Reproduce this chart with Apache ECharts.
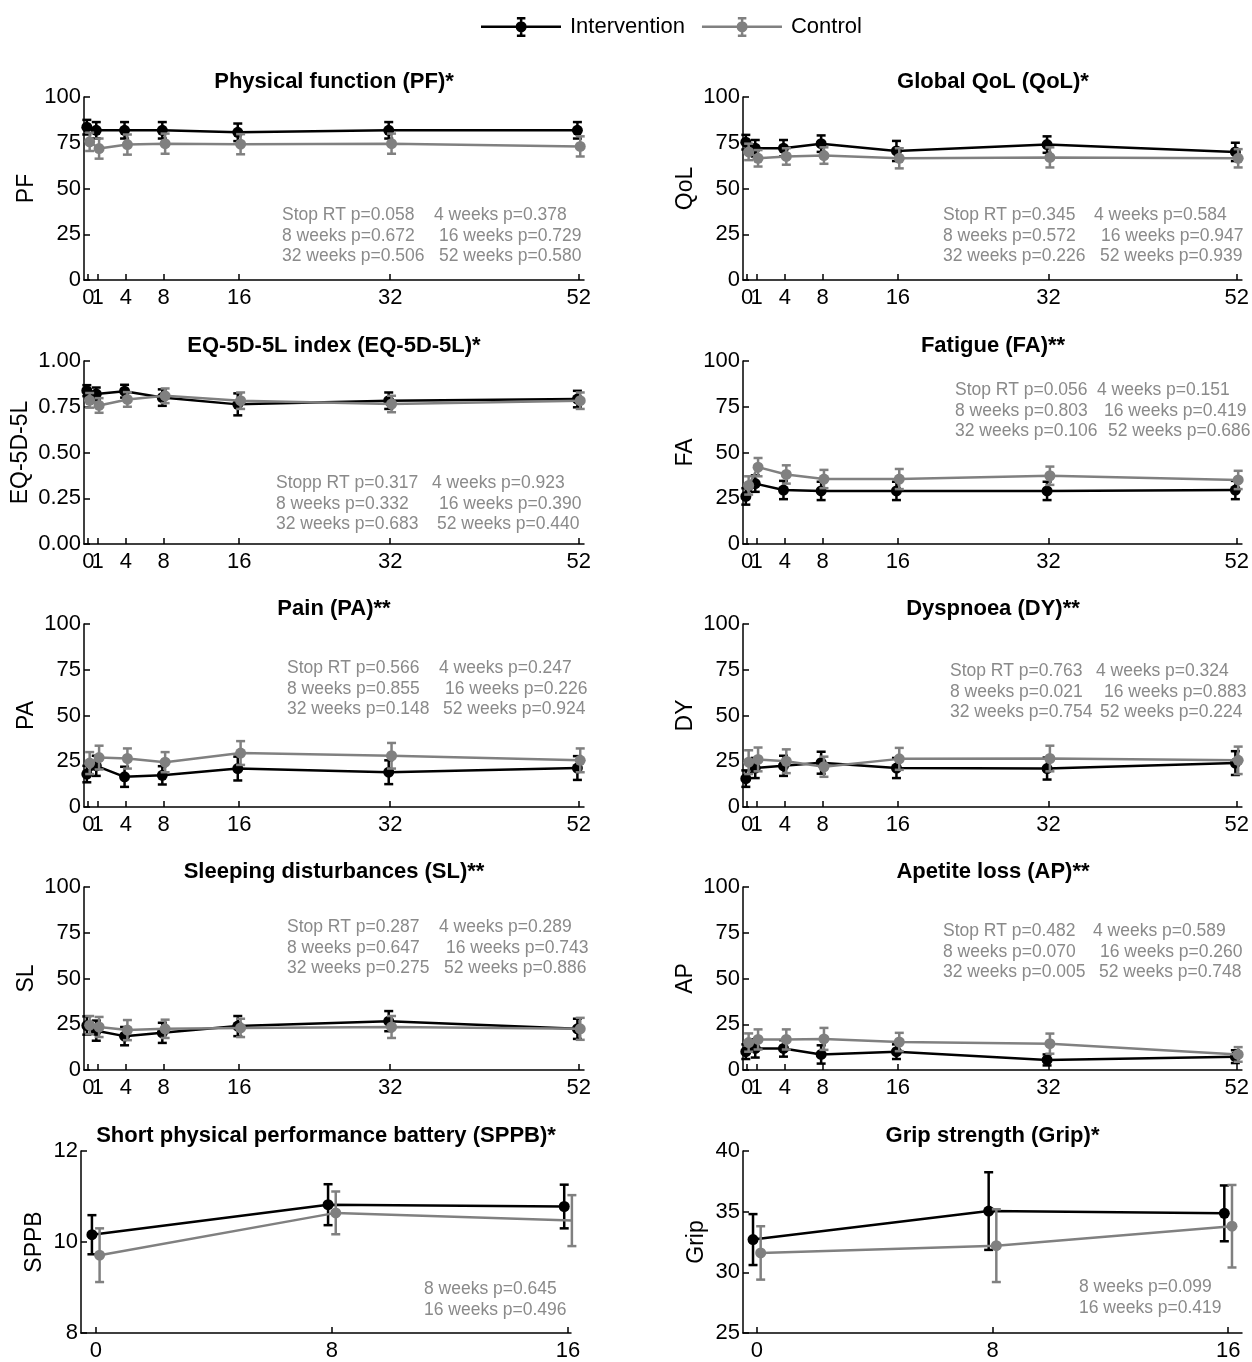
<!DOCTYPE html>
<html>
<head>
<meta charset="utf-8">
<style>html,body{margin:0;padding:0;background:#fff}#c{width:1252px;height:1362px}</style>
<script src="https://cdn.jsdelivr.net/npm/echarts@6/dist/echarts.min.js"></script>
</head>
<body>
<div id="c"></div>
<script>
// ---------------- DATA ----------------
const weeksLong = [0, 1, 4, 8, 16, 32, 52];
const weeksShort = [0, 8, 16];
const xTicksLong = [0, 1, 4, 8, 16, 32, 52];
const xTicksShort = [0, 8, 16];
const seriesNames = ['Intervention', 'Control'];

const pfInt = [83.5, 81.8, 81.8, 81.8, 80.7, 81.8, 81.8];
const pfIntErr = [4, 4.5, 4.5, 4.5, 4.8, 4.5, 4.5];
const pfCtl = [75.5, 71.8, 74, 74.5, 74.2, 74.5, 73];
const pfCtlErr = [5, 5.5, 5.5, 5.5, 5.5, 5.5, 5.5];

const qolInt = [75.3, 72, 72, 74.5, 70.5, 74, 70];
const qolIntErr = [4, 4.5, 4.5, 4.5, 5.5, 4.5, 5];
const qolCtl = [70, 66.5, 67.5, 68, 66.5, 67, 66.5];
const qolCtlErr = [4.5, 4.5, 4.5, 4.5, 5.5, 5.5, 5];

const eqInt = [0.838, 0.82, 0.835, 0.80, 0.763, 0.783, 0.792];
const eqIntErr = [0.03, 0.035, 0.035, 0.045, 0.06, 0.045, 0.045];
const eqCtl = [0.785, 0.757, 0.79, 0.81, 0.783, 0.765, 0.783];
const eqCtlErr = [0.04, 0.04, 0.04, 0.04, 0.045, 0.045, 0.045];

const faInt = [26, 33, 29.5, 29, 29, 29, 29.5];
const faIntErr = [4.5, 4.5, 5, 5, 5, 5, 5];
const faCtl = [32, 42, 38, 35.5, 35.5, 37.3, 35];
const faCtlErr = [5, 5, 5, 5, 5.5, 5, 5];

const paInt = [18, 22.5, 16.5, 17.3, 21, 19, 21.3];
const paIntErr = [4.5, 5.5, 5.5, 5, 6.5, 6.5, 6.5];
const paCtl = [24, 27, 26.5, 24.5, 29.5, 28, 25.5];
const paCtlErr = [6, 6.5, 5.5, 5.5, 6.5, 7, 6.5];

const dyInt = [15.5, 21.3, 22.5, 24.2, 21.3, 21, 24];
const dyIntErr = [4.5, 5.5, 5.5, 6, 5.5, 6, 6.5];
const dyCtl = [24.5, 26, 25, 22, 26.3, 26.5, 25.5];
const dyCtlErr = [6.5, 6.5, 6.5, 5.5, 6, 7, 7.5];

const slInt = [24.3, 21.5, 18.5, 20.3, 24, 26.7, 22.5];
const slIntErr = [5, 5.5, 5, 5.5, 5.5, 5.5, 5.5];
const slCtl = [24.5, 23.5, 21.8, 22.5, 23, 23.5, 22.5];
const slCtlErr = [5, 5.5, 5.5, 5, 5, 6, 6];

const apInt = [10, 11.8, 11.8, 8.5, 10, 5.5, 7.3];
const apIntErr = [4, 5, 4.5, 5, 4, 3, 3.5];
const apCtl = [15, 16.7, 16.7, 17, 15.3, 14.4, 8.5];
const apCtlErr = [5, 5.5, 5.5, 6, 5, 5.5, 4];

const sppbInt = [10.16, 10.82, 10.78];
const sppbIntErr = [0.43, 0.45, 0.48];
const sppbCtl = [9.71, 10.64, 10.47];
const sppbCtlErr = [0.59, 0.47, 0.56];

const gripInt = [32.7, 35.05, 34.86];
const gripIntErr = [2.1, 3.2, 2.3];
const gripCtl = [31.6, 32.2, 33.8];
const gripCtlErr = [2.2, 3.0, 3.4];

const pfAnn = [['Stop RT p=0.058', '8 weeks p=0.672', '32 weeks p=0.506'], ['4 weeks p=0.378', '16 weeks p=0.729', '52 weeks p=0.580']];
const qolAnn = [['Stop RT p=0.345', '8 weeks p=0.572', '32 weeks p=0.226'], ['4 weeks p=0.584', '16 weeks p=0.947', '52 weeks p=0.939']];
const eqAnn = [['Stopp RT p=0.317', '8 weeks p=0.332', '32 weeks p=0.683'], ['4 weeks p=0.923', '16 weeks p=0.390', '52 weeks p=0.440']];
const faAnn = [['Stop RT p=0.056', '8 weeks p=0.803', '32 weeks p=0.106'], ['4 weeks p=0.151', '16 weeks p=0.419', '52 weeks p=0.686']];
const paAnn = [['Stop RT p=0.566', '8 weeks p=0.855', '32 weeks p=0.148'], ['4 weeks p=0.247', '16 weeks p=0.226', '52 weeks p=0.924']];
const dyAnn = [['Stop RT p=0.763', '8 weeks p=0.021', '32 weeks p=0.754'], ['4 weeks p=0.324', '16 weeks p=0.883', '52 weeks p=0.224']];
const slAnn = [['Stop RT p=0.287', '8 weeks p=0.647', '32 weeks p=0.275'], ['4 weeks p=0.289', '16 weeks p=0.743', '52 weeks p=0.886']];
const apAnn = [['Stop RT p=0.482', '8 weeks p=0.070', '32 weeks p=0.005'], ['4 weeks p=0.589', '16 weeks p=0.260', '52 weeks p=0.748']];
const sppbAnn = [['8 weeks p=0.645', '16 weeks p=0.496']];
const gripAnn = [['8 weeks p=0.099', '16 weeks p=0.419']];

// ---------------- LAYOUT / STYLE ----------------
const FONT = "'Liberation Sans', Arial, Helvetica, sans-serif";
const BLACK = '#000000';
const GRAY = '#808080';
const ANN_GRAY = '#8a8a8a';
const rowTop = [97, 361, 624, 887, 1151];
const PH = 183;
const longCols = [{ left: 84, width: 500 }, { left: 743, width: 500 }];
const shortCols = [{ left: 81, width: 490 }, { left: 743, width: 499 }];

// annotation layout: col1 x, col2 x per line, first line y
const panels = [
  { title: 'Physical function (PF)*', yName: 'PF', t: weeksLong, ticks: xTicksLong, d: [pfInt, pfIntErr, pfCtl, pfCtlErr], y: [0, 100, 25, 0], ann: pfAnn, col: 0, row: 0, nameGap: 46, annX: [[282, 282, 282], [434, 439, 439]], annY: 215 },
  { title: 'Global QoL (QoL)*', yName: 'QoL', t: weeksLong, ticks: xTicksLong, d: [qolInt, qolIntErr, qolCtl, qolCtlErr], y: [0, 100, 25, 0], ann: qolAnn, col: 1, row: 0, nameGap: 46, annX: [[943, 943, 943], [1094, 1101, 1100]], annY: 215 },
  { title: 'EQ-5D-5L index (EQ-5D-5L)*', yName: 'EQ-5D-5L', t: weeksLong, ticks: xTicksLong, d: [eqInt, eqIntErr, eqCtl, eqCtlErr], y: [0, 1, 0.25, 2], ann: eqAnn, col: 0, row: 1, nameGap: 52, annX: [[276, 276, 276], [432, 439, 437]], annY: 483 },
  { title: 'Fatigue (FA)**', yName: 'FA', t: weeksLong, ticks: xTicksLong, d: [faInt, faIntErr, faCtl, faCtlErr], y: [0, 100, 25, 0], ann: faAnn, col: 1, row: 1, nameGap: 46, annX: [[955, 955, 955], [1097, 1104, 1108]], annY: 390 },
  { title: 'Pain (PA)**', yName: 'PA', t: weeksLong, ticks: xTicksLong, d: [paInt, paIntErr, paCtl, paCtlErr], y: [0, 100, 25, 0], ann: paAnn, col: 0, row: 2, nameGap: 46, annX: [[287, 287, 287], [439, 445, 443]], annY: 668 },
  { title: 'Dyspnoea (DY)**', yName: 'DY', t: weeksLong, ticks: xTicksLong, d: [dyInt, dyIntErr, dyCtl, dyCtlErr], y: [0, 100, 25, 0], ann: dyAnn, col: 1, row: 2, nameGap: 46, annX: [[950, 950, 950], [1096, 1104, 1100]], annY: 671 },
  { title: 'Sleeping disturbances (SL)**', yName: 'SL', t: weeksLong, ticks: xTicksLong, d: [slInt, slIntErr, slCtl, slCtlErr], y: [0, 100, 25, 0], ann: slAnn, col: 0, row: 3, nameGap: 46, annX: [[287, 287, 287], [439, 446, 444]], annY: 927 },
  { title: 'Apetite loss (AP)**', yName: 'AP', t: weeksLong, ticks: xTicksLong, d: [apInt, apIntErr, apCtl, apCtlErr], y: [0, 100, 25, 0], ann: apAnn, col: 1, row: 3, nameGap: 46, annX: [[943, 943, 943], [1093, 1100, 1099]], annY: 931 },
  { title: 'Short physical performance battery (SPPB)*', yName: 'SPPB', t: weeksShort, ticks: xTicksShort, d: [sppbInt, sppbIntErr, sppbCtl, sppbCtlErr], y: [8, 12, 2, 0], ann: sppbAnn, col: 0, row: 4, nameGap: 35, annX: [[424, 424]], annY: 1289 },
  { title: 'Grip strength (Grip)*', yName: 'Grip', t: weeksShort, ticks: xTicksShort, d: [gripInt, gripIntErr, gripCtl, gripCtlErr], y: [25, 40, 5, 0], ann: gripAnn, col: 1, row: 4, nameGap: 35, annX: [[1079, 1079]], annY: 1287 }
];

const grids = [], xAxes = [], auxAxes = [], yAxes = [], series = [], graphics = [];

function errRender(color) {
  return function (params, api) {
    const x = api.value(0);
    const p1 = api.coord([x, api.value(1)]);
    const p2 = api.coord([x, api.value(2)]);
    const w = 4.5;
    const st = { stroke: color, lineWidth: 2.5 };
    return {
      type: 'group', children: [
        { type: 'line', shape: { x1: p1[0], y1: p1[1], x2: p2[0], y2: p2[1] }, style: st },
        { type: 'line', shape: { x1: p1[0] - w, y1: p1[1], x2: p1[0] + w, y2: p1[1] }, style: st },
        { type: 'line', shape: { x1: p2[0] - w, y1: p2[1], x2: p2[0] + w, y2: p2[1] }, style: st }
      ]
    };
  };
}

const xLabelStyle = { margin: 7, color: '#000', fontSize: 22, fontFamily: FONT, hideOverlap: false, showMinLabel: true, showMaxLabel: true };

panels.forEach((p, i) => {
  const isShort = p.row === 4;
  const c = (isShort ? shortCols : longCols)[p.col];
  const top = rowTop[p.row];
  grids.push({ left: c.left, top: top, width: c.width, height: PH, containLabel: false });
  const xmin = isShort ? (p.col === 0 ? -0.5 : -0.47) : -0.45;
  const xmax = isShort ? (p.col === 0 ? 16.1 : 16.47) : 52.55;
  const dodge = isShort ? 0.13 : 0.15;
  // labels that sit too close to their left neighbour go on a label-only twin axis
  const closeLabels = p.ticks.filter((v, k) => k > 0 && v - p.ticks[k - 1] < 2);
  const mainLabels = p.ticks.filter(v => closeLabels.indexOf(v) < 0);
  xAxes.push({
    type: 'value', gridIndex: i, min: xmin, max: xmax, position: 'bottom',
    axisLine: { show: true, onZero: false, lineStyle: { color: '#000', width: 1.5 } },
    axisTick: { show: true, inside: true, length: 6, customValues: p.ticks, lineStyle: { color: '#000', width: 1.5 } },
    axisLabel: Object.assign({ show: true, customValues: mainLabels }, xLabelStyle),
    splitLine: { show: false }
  });
  if (closeLabels.length) {
    auxAxes.push({
      type: 'value', gridIndex: i, min: xmin, max: xmax, position: 'bottom', offset: 0,
      axisLine: { show: false, onZero: false }, axisTick: { show: false },
      axisLabel: Object.assign({ show: true, customValues: closeLabels }, xLabelStyle),
      splitLine: { show: false }
    });
  }
  yAxes.push({
    type: 'value', gridIndex: i, min: p.y[0], max: p.y[1], interval: p.y[2],
    name: p.yName, nameLocation: 'middle', nameGap: p.nameGap,
    nameTextStyle: { fontSize: 23, color: '#000', fontFamily: FONT },
    axisLine: { show: true, onZero: false, lineStyle: { color: '#000', width: 1.5 } },
    axisTick: { show: true, inside: true, length: 6, lineStyle: { color: '#000', width: 1.5 } },
    axisLabel: { color: '#000', fontSize: 22, fontFamily: FONT, margin: 3, showMinLabel: true, formatter: (v) => v.toFixed(p.y[3]) },
    splitLine: { show: false }
  });
  const groups = [
    { name: seriesNames[0], mean: p.d[0], err: p.d[1], color: BLACK, off: -dodge, z: 2 },
    { name: seriesNames[1], mean: p.d[2], err: p.d[3], color: GRAY, off: dodge, z: 4 }
  ];
  groups.forEach(g => {
    series.push({
      type: 'custom', name: g.name + ' error', xAxisIndex: i, yAxisIndex: i, z: g.z,
      renderItem: errRender(g.color), clip: false,
      encode: { x: 0, y: [1, 2] },
      data: p.t.map((t, k) => [t + g.off, g.mean[k] - g.err[k], g.mean[k] + g.err[k]])
    });
    series.push({
      type: 'line', name: g.name, xAxisIndex: i, yAxisIndex: i, z: g.z + 1,
      symbol: 'circle', symbolSize: 11, showSymbol: true,
      lineStyle: { color: g.color, width: 2.5 }, itemStyle: { color: g.color },
      data: p.t.map((t, k) => [t + g.off, g.mean[k]])
    });
  });
  graphics.push({
    type: 'text', x: c.left + c.width / 2, y: top - 15,
    style: { text: p.title, font: 'bold 22px ' + FONT, fill: '#000', align: 'center', verticalAlign: 'middle' }
  });
  p.ann.forEach((colLines, ci) => {
    colLines.forEach((txt, li) => {
      graphics.push({
        type: 'text', x: p.annX[ci][li], y: p.annY + li * 20.7,
        style: { text: txt, font: '17.5px ' + FONT, fill: ANN_GRAY, align: 'left', verticalAlign: 'middle' }
      });
    });
  });
});

const legendIcon = 'path://M0,10L80,10L80,12.5L0,12.5Z M38.9,3L41.4,3L41.4,20L38.9,20Z M35.9,1.5L44.4,1.5L44.4,4L35.9,4Z M35.9,19L44.4,19L44.4,21.5L35.9,21.5Z M45.65,11.25A5.5,5.5 0 1,1 34.65,11.25A5.5,5.5 0 1,1 45.65,11.25Z';

const option = {
  backgroundColor: '#fff',
  animation: false,
  legend: {
    data: seriesNames, left: 476, top: 11, itemWidth: 80, itemHeight: 22, itemGap: 17,
    icon: legendIcon, selectedMode: false,
    textStyle: { fontSize: 22, color: '#000', fontFamily: FONT, padding: [0, 0, 0, 4] }
  },
  grid: grids, xAxis: xAxes.concat(auxAxes), yAxis: yAxes, series: series, graphic: graphics
};

const chart = echarts.init(document.getElementById('c'), null, { renderer: 'canvas' });
chart.setOption(option);
</script>
</body>
</html>
